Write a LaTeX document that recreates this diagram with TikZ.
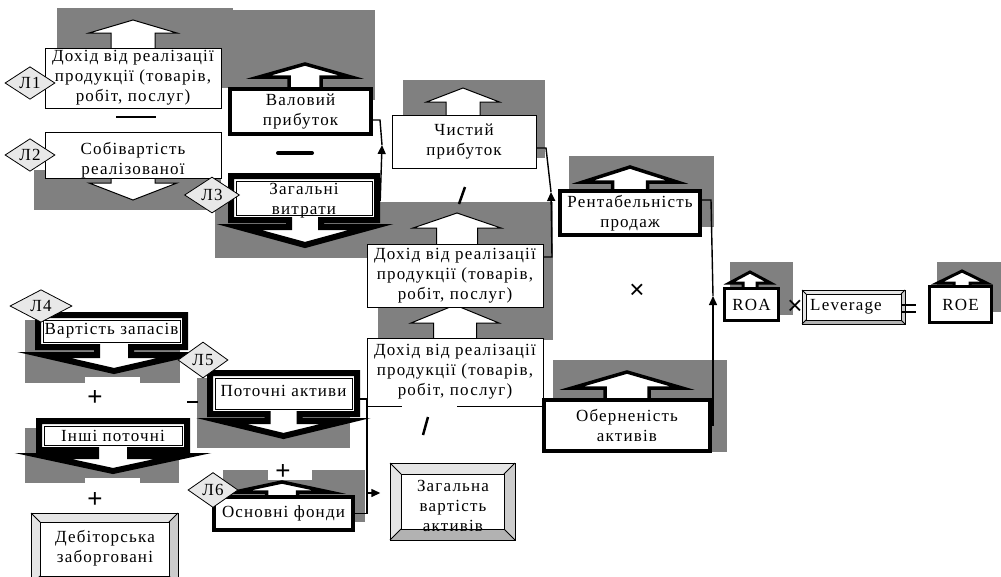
\documentclass[tikz,border=0pt]{standalone}
\usepackage{fontspec}
\setmainfont{Liberation Serif}[LetterSpace=7]
\newfontfamily\signfont{Liberation Sans}
\usetikzlibrary{shapes.geometric,arrows.meta}
\definecolor{shade}{HTML}{808080}
\definecolor{light}{HTML}{E8E8E8}
\newcommand\txt{\fontsize{17}{20}\selectfont}
\newcommand\UpArr[7]{\draw[fill=white,line width=#7] (#1,#2) -- ({#1+#4},#3) -- ({#1+#5},#3) -- ({#1+#5},#6) -- ({#1-#5},#6) -- ({#1-#5},#3) -- ({#1-#4},#3) -- cycle;}
\newcommand\DnBox[9]{\draw[fill=white,line width=6pt] (#1,#2) -- (#3,#2) -- (#3,#4) -- ({#5+#6},#4) -- ({#5+#6},#8) -- ({#5+#7},#8) -- (#5,#9) -- ({#5-#7},#8) -- ({#5-#6},#8) -- ({#5-#6},#4) -- (#1,#4) -- cycle;
\draw[line width=0.8pt] ({#1+5},{#2+5}) rectangle ({#3-5},{#4-5});}
\newcommand\Bevel[5]{\fill[gray!20] (#1,#2) rectangle (#3,#4);
\fill[gray!60] (#1,#4) -- ({#1+#5},{#4-#5}) -- ({#3-#5},{#4-#5}) -- (#3,#4) -- cycle;
\fill[gray!40] (#3,#2) -- ({#3-#5},{#2+#5}) -- ({#3-#5},{#4-#5}) -- (#3,#4) -- cycle;
\draw[line width=1pt] (#1,#2) rectangle (#3,#4);
\draw[line width=0.8pt, fill=white] ({#1+#5},{#2+#5}) rectangle ({#3-#5},{#4-#5});
\draw[line width=0.8pt] (#1,#2) -- ({#1+#5},{#2+#5}) (#3,#2) -- ({#3-#5},{#2+#5}) (#1,#4) -- ({#1+#5},{#4-#5}) (#3,#4) -- ({#3-#5},{#4-#5});}
\begin{document}
\begin{tikzpicture}[x=1pt,y=-1pt,
  gbg/.style={fill=shade,draw=none},
  tb/.style={draw,fill=white,line width=1pt,align=center,inner sep=0pt,font=\txt},
  kb/.style={tb,line width=4pt},
  lbl/.style={align=center,inner sep=0pt,font=\txt},
  dm/.style={diamond,draw,fill=light,line width=0.8pt,inner sep=0pt,font=\txt},
  sign/.style={inner sep=0pt,font=\signfont\fontsize{26}{26}\selectfont},
  conn/.style={line width=1.4pt},
  tri/.style={-{Triangle[length=9pt,width=8pt]}}]
\useasboundingbox (0,0) rectangle (1001,576);
% gray shadows
\fill[gbg] (57,8) rectangle (233,88);
\fill[gbg] (233,10) rectangle (375,100);
\fill[gbg] (34,170) rectangle (221,210);
\fill[gbg] (215,200) rectangle (380,258);
\fill[gbg] (403,80) rectangle (545,158);
\fill[gbg] (378,202) rectangle (553,340);
\fill[gbg] (569,156) rectangle (714,227);
\fill[gbg] (730,262) rectangle (793,315);
\fill[gbg] (937,262) rectangle (1001,312);
\fill[gbg] (553,360) rectangle (727,452);
\fill[gbg] (25,320) rectangle (180,383);
\fill[white] (85,377) rectangle (140,384);
\fill[gbg] (197,378) rectangle (350,448);
\fill[gbg] (25,428) rectangle (179,483);
\fill[white] (85,478) rectangle (140,484);
\fill[gbg] (223,470) rectangle (365,522);
\fill[white] (268,470) rectangle (312,480);
% up arrows
\UpArr{133}{20}{33}{44}{22}{50}{1pt}
\UpArr{463}{88}{102}{36.5}{17}{117}{1pt}
\UpArr{455}{305}{323}{44}{21.5}{340}{1pt}
\UpArr{457}{213}{228}{44}{20.5}{246}{1pt}
\UpArr{305}{64}{77}{46}{16}{90}{3.5pt}
\UpArr{630}{167}{182}{47}{17.5}{192}{3.5pt}
\UpArr{750}{272}{283}{20.5}{7}{290}{3pt}
\UpArr{962}{271}{283}{24.5}{8}{288}{3pt}
\UpArr{627}{372}{388}{55}{22}{400}{3.5pt}
\UpArr{282}{482}{492}{47}{15.5}{498}{3.5pt}
% down arrow (thin)
\draw[fill=white,line width=1pt] (111,176) -- (111,183) -- (89,183) -- (133,200) -- (177,183) -- (155,183) -- (155,176) -- cycle;
% boxes
\node[tb,minimum width=176pt,minimum height=60pt] (D1) at (133,78) {Дохід від реалізації\\продукції (товарів,\\робіт, послуг)};
\node[tb,minimum width=176pt,minimum height=46pt] (Sob) at (133,155) {};
\node[lbl] (SobT) at (133,160) {Собівартість\\реалізованої};
\node[kb,minimum width=141pt,minimum height=45pt] (Val) at (300.5,111.5) {Валовий\\прибуток};
\DnBox{231}{176}{377}{220}{305}{16}{66}{227}{245}
\node[lbl,minimum width=152pt,minimum height=50pt] (Zag) at (304,201) {Загальні\\витрати};
\node[tb,minimum width=144pt,minimum height=53pt] (Chy) at (464,141.5) {Чистий\\прибуток};
\node[tb,minimum width=176pt,minimum height=63pt] (D2) at (455,275.5) {Дохід від реалізації\\продукції (товарів,\\робіт, послуг)};
\node[tb,minimum width=176pt,minimum height=68pt] (D3) at (455,372) {Дохід від реалізації\\продукції (товарів,\\робіт, послуг)};
\draw[white,line width=2pt] (402,406) -- (457,406);
\node[kb,minimum width=140pt,minimum height=44pt] (Rent) at (630,213) {Рентабельність\\продаж};
\node[kb,line width=3.5pt,minimum width=54pt,minimum height=32pt] (ROA) at (751.5,304.5) {ROA};
\Bevel{802}{290}{905}{324}{4}
\node[lbl] (Lev) at (846,307) {Leverage};
\node[kb,line width=3.5pt,minimum width=62pt,minimum height=36pt] (ROE) at (960.5,304.5) {ROE};
\node[kb,minimum width=166pt,minimum height=51pt] (Obr) at (627,425.5) {Оберненість\\активів};
\DnBox{38}{315}{185}{347}{114}{17}{70}{355}{371}
\node[lbl,minimum width=147pt,minimum height=32pt] (Var) at (111.5,331) {Вартість запасів};
\DnBox{210}{373}{357}{414}{283.5}{16}{62}{421}{436}
\node[lbl,minimum width=147pt,minimum height=40pt] (Pot) at (283.5,391) {Поточні активи};
\DnBox{39}{421}{187}{450}{113}{17}{70}{456}{471}
\node[lbl,minimum width=148pt,minimum height=28pt] (Ins) at (113,436) {Інші поточні};
\node[kb,minimum width=139pt,minimum height=33pt] (Osn) at (283.5,513.5) {Основні фонди};
\Bevel{31}{513}{178}{585}{9}
\node[lbl] (Deb) at (105,548) {Дебіторська\\заборговані};
\Bevel{390}{463}{515}{540}{11}
\node[lbl,minimum width=125pt] (Zah) at (453,506) {Загальна\\вартість\\активів};
% diamonds
\node[dm,minimum width=50pt,minimum height=32pt] (L1) at (30,83) {Л1};
\node[dm,minimum width=50pt,minimum height=32pt] (L2) at (30,155) {Л2};
\node[dm,minimum width=55pt,minimum height=36pt] (L3) at (212,195) {Л3};
\node[dm,minimum width=62pt,minimum height=31pt] (L4) at (41,306) {Л4};
\node[dm,minimum width=50pt,minimum height=36pt] (L5) at (203,360) {Л5};
\node[dm,minimum width=50pt,minimum height=35pt] (L6) at (213,490) {Л6};
% connectors
\coordinate (jA) at (382,145);
\draw[conn] ([yshift=-8.5pt]Val.east) -- (380,120) -- (jA);
\draw[conn,tri] (Zag.east) -- (jA);
\coordinate (jB) at (551,192);
\draw[conn] ([yshift=-6.5pt]Chy.east) -- (546,148) -- (jB);
\draw[conn,tri] ([yshift=18.5pt]D2.east) -- (552,257) -- (jB);
\coordinate (jC) at (713,296);
\draw[conn] ([yshift=13pt]Rent.east) -- (711,200) -- (jC);
\draw[conn,tri] (Obr.east) -- (713,425.5) -- (jC);
\coordinate (jD) at (367,493);
\draw[conn] ([yshift=-8pt]Pot.east) -- (367,399) -- (367,513.5) -- (Osn.east);
\draw[conn,tri,shorten >=10pt] (jD) -- (Zah.west |- jD);
% operators
\draw[line width=1.5pt] (116,117) -- (156,117);
\draw[line width=4pt,line cap=round] (278,153) -- (312,153);
\draw[line width=2.5pt] (465,187) -- (459,204);
\draw[line width=2.5pt] (428,417) -- (423,435);
\draw[line width=1.2pt] (187,402) -- (198,402);
\draw[line width=2.2pt] (901,305) -- (916,305) (901,312) -- (916,312);
\node[sign] (m1) at (637,291) {×};
\node[sign] (m2) at (795,307) {×};
\node[sign] (p1) at (95,398) {+};
\node[sign] (p2) at (95,500) {+};
\node[sign] (p3) at (283,472) {+};
\end{tikzpicture}
\end{document}
